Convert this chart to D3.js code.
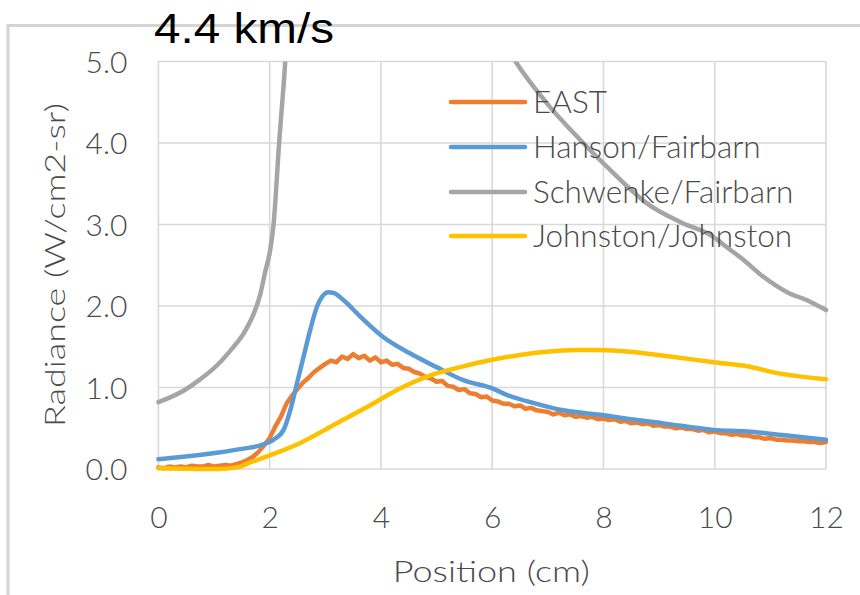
<!DOCTYPE html>
<html>
<head>
<meta charset="utf-8">
<script src="https://cdn.jsdelivr.net/npm/d3@7/dist/d3.min.js"></script>
<style>
  html, body { margin: 0; padding: 0; background: #fff; }
  svg { display: block; }
</style>
</head>
<body>
<svg id="chart" width="860" height="595"></svg>
<script>
// ---- data ----
const title = "4.4 km/s";
const xTicks = [0, 2, 4, 6, 8, 10, 12];
const yTicks = [0, 1, 2, 3, 4, 5];
const seriesNames = ["EAST", "Hanson/Fairbarn", "Schwenke/Fairbarn", "Johnston/Johnston"];
const seriesColors = ["#ED7D31", "#5B9BD5", "#A5A5A5", "#FFC000"];

// EAST measurement, sampled every 0.1 cm from 0 to 12 cm
const eastStep = 0.1;
const eastValues = [
  0.02, 0.01, 0.03, 0.02, 0.03, 0.02, 0.04, 0.03, 0.03, 0.05,
  0.03, 0.04, 0.05, 0.04, 0.06, 0.08, 0.11, 0.15, 0.21, 0.29,
  0.38, 0.52, 0.64, 0.80, 0.90, 0.98, 1.06, 1.12, 1.19, 1.24,
  1.29, 1.33, 1.31, 1.38, 1.35, 1.41, 1.36, 1.39, 1.33, 1.37,
  1.31, 1.33, 1.28, 1.29, 1.24, 1.23, 1.19, 1.17, 1.13, 1.11,
  1.07, 1.08, 1.02, 1.01, 0.97, 0.98, 0.93, 0.92, 0.88, 0.89,
  0.84, 0.83, 0.80, 0.80, 0.77, 0.78, 0.74, 0.75, 0.72, 0.71,
  0.70, 0.67, 0.69, 0.66, 0.67, 0.64, 0.65, 0.63, 0.64, 0.61,
  0.62, 0.60, 0.61, 0.58, 0.59, 0.56, 0.57, 0.55, 0.56, 0.53,
  0.54, 0.52, 0.52, 0.50, 0.51, 0.49, 0.49, 0.47, 0.48, 0.45,
  0.46, 0.44, 0.44, 0.42, 0.43, 0.41, 0.41, 0.39, 0.39, 0.37,
  0.38, 0.36, 0.36, 0.35, 0.35, 0.34, 0.34, 0.33, 0.33, 0.32,
  0.33
];

const hansonX = [0, 0.45, 1.05, 1.53, 1.83, 2.07, 2.25, 2.37, 2.49, 2.61, 2.73, 2.85, 2.95, 3.05, 3.15, 3.33, 3.63, 4.04, 4.52, 5.0, 5.48, 6.0, 6.26, 6.8, 7.28, 8.0, 8.5, 9.08, 9.98, 10.58, 11.3, 12];
const hansonY = [0.12, 0.15, 0.20, 0.25, 0.29, 0.36, 0.48, 0.72, 1.05, 1.38, 1.71, 1.99, 2.12, 2.17, 2.16, 2.07, 1.87, 1.62, 1.42, 1.25, 1.09, 0.99, 0.91, 0.80, 0.72, 0.66, 0.61, 0.56, 0.48, 0.46, 0.41, 0.36];

const schwenkeX = [0, 0.45, 0.75, 1.05, 1.29, 1.53, 1.71, 1.83, 1.92, 2.01, 2.07, 2.17, 2.28, 2.4, 3.0, 4.5, 5.5, 6.2, 6.42, 6.98, 7.58, 8.18, 8.78, 9.38, 9.97, 10.2, 10.51, 10.87, 11.3, 11.66, 12];
const schwenkeY = [0.82, 0.96, 1.10, 1.27, 1.45, 1.66, 1.90, 2.14, 2.42, 2.69, 3.0, 4.0, 5.0, 6.5, 9.0, 9.5, 7.0, 5.25, 5.0, 4.49, 4.04, 3.63, 3.26, 3.03, 2.85, 2.73, 2.57, 2.36, 2.17, 2.07, 1.95];

const johnstonX = [0, 1.05, 1.41, 1.65, 2.01, 2.55, 3.15, 3.75, 4.35, 4.94, 5.48, 6.0, 6.5, 6.98, 7.5, 7.9, 8.48, 9.2, 9.98, 10.58, 11.18, 12];
const johnstonY = [0.01, 0.0, 0.02, 0.08, 0.17, 0.32, 0.54, 0.76, 0.99, 1.16, 1.26, 1.34, 1.40, 1.44, 1.46, 1.46, 1.44, 1.38, 1.31, 1.26, 1.17, 1.10];

// ---- layout ----
const svg = d3.select("#chart");
const plot = { left: 158.4, right: 826, top: 61.5, bottom: 469 };
const textColor = "#4a4a4a";
const gridColor = "#d9d9d9";
const font = "Lato, 'Open Sans', sans-serif";
const weight = 300;

const x = d3.scaleLinear().domain([0, 12]).range([plot.left, plot.right]);
const y = d3.scaleLinear().domain([0, 5]).range([plot.bottom, plot.top]);

// chart frame
svg.append("path")
  .attr("d", "M8,600 L8,25.5 L870,25.5")
  .attr("fill", "none")
  .attr("stroke", "#d4d4d4")
  .attr("stroke-width", 3);

// title
svg.append("text")
  .attr("x", 154).attr("y", 43)
  .attr("font-family", "'Liberation Sans', Arial, sans-serif")
  .attr("font-size", 43)
  .attr("textLength", 180)
  .attr("lengthAdjust", "spacingAndGlyphs")
  .attr("fill", "#000")
  .text(title);

// gridlines
const grid = svg.append("g").attr("stroke", gridColor).attr("stroke-width", 1.6);
grid.selectAll("line.h").data(yTicks).join("line")
  .attr("x1", plot.left).attr("x2", plot.right)
  .attr("y1", d => y(d)).attr("y2", d => y(d));
grid.selectAll("line.v").data(xTicks).join("line")
  .attr("y1", plot.top).attr("y2", plot.bottom)
  .attr("x1", d => x(d)).attr("x2", d => x(d));

// axes (labels only; gridlines carry the structure)
const xAxis = svg.append("g")
  .attr("transform", `translate(0,${plot.bottom + 48})`)
  .call(d3.axisBottom(x).tickValues(xTicks).tickFormat(d3.format("d")).tickSize(0).tickPadding(0));
const yAxis = svg.append("g")
  .attr("transform", `translate(${plot.left - 31},0)`)
  .call(d3.axisLeft(y).tickValues(yTicks).tickFormat(d3.format(".1f")).tickSize(0).tickPadding(0));
[xAxis, yAxis].forEach(a => {
  a.select(".domain").remove();
  a.selectAll("text")
    .attr("font-family", font)
    .attr("font-weight", weight)
    .attr("font-size", 30)
    .attr("fill", textColor);
});
xAxis.selectAll("text").attr("dy", "0.35em").attr("y", 0);
yAxis.selectAll("text").attr("dy", "0.36em").attr("x", 0);

// axis titles
svg.append("text")
  .attr("transform", `translate(${(plot.left + plot.right) / 2 - 1},582)`)
  .attr("text-anchor", "middle")
  .attr("font-family", font).attr("font-size", 30).attr("font-weight", weight)
  .attr("textLength", 197).attr("lengthAdjust", "spacingAndGlyphs")
  .attr("fill", textColor)
  .text("Position (cm)");
svg.append("text")
  .attr("transform", `translate(65,265) rotate(-90)`)
  .attr("text-anchor", "middle")
  .attr("font-family", font).attr("font-size", 28).attr("font-weight", weight)
  .attr("textLength", 324).attr("lengthAdjust", "spacingAndGlyphs")
  .attr("fill", textColor)
  .text("Radiance (W/cm2-sr)");

// series lines
svg.append("defs").append("clipPath").attr("id", "plotClip")
  .append("rect")
  .attr("x", plot.left - 4).attr("y", plot.top)
  .attr("width", plot.right - plot.left + 8).attr("height", plot.bottom - plot.top + 6);

const eastData = eastValues.map((v, i) => [i * eastStep, v]);
const zip = (xs, ys) => xs.map((v, i) => [v, ys[i]]);
const series = [
  { data: eastData, curve: d3.curveLinear },
  { data: zip(hansonX, hansonY), curve: d3.curveMonotoneX },
  { data: zip(schwenkeX, schwenkeY), curve: d3.curveMonotoneX },
  { data: zip(johnstonX, johnstonY), curve: d3.curveMonotoneX }
];

const lines = svg.append("g").attr("clip-path", "url(#plotClip)");
series.forEach((s, i) => {
  const gen = d3.line().x(d => x(d[0])).y(d => y(d[1])).curve(s.curve);
  lines.append("path")
    .attr("d", gen(s.data))
    .attr("fill", "none")
    .attr("stroke", seriesColors[i])
    .attr("stroke-width", 4.5)
    .attr("stroke-linejoin", "round")
    .attr("stroke-linecap", "round");
});

// legend
const legend = svg.append("g");
const rowY = [102, 147, 192, 236];
seriesNames.forEach((name, i) => {
  legend.append("line")
    .attr("x1", 451).attr("x2", 525)
    .attr("y1", rowY[i]).attr("y2", rowY[i])
    .attr("stroke", seriesColors[i])
    .attr("stroke-width", 4.5)
    .attr("stroke-linecap", "round");
  legend.append("text")
    .attr("x", 533).attr("y", rowY[i])
    .attr("dy", "0.36em")
    .attr("font-family", font).attr("font-size", 31.5).attr("font-weight", weight)
    .attr("fill", textColor)
    .text(name);
});
</script>
</body>
</html>
